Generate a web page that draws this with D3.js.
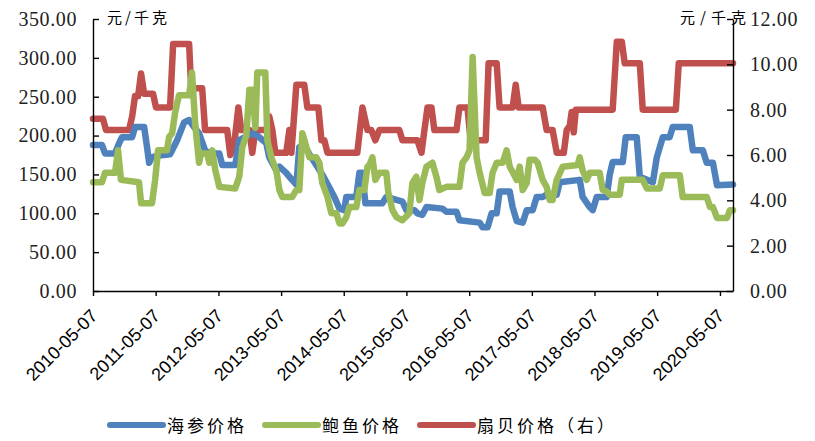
<!DOCTYPE html>
<html>
<head>
<meta charset="utf-8">
<script src="https://cdn.jsdelivr.net/npm/d3@7"></script>
<style>
  body { margin: 0; background: #fff; }
</style>
</head>
<body>
<script>
// tick values
var xTicks = ["2010-05-07", "2011-05-07", "2012-05-07", "2013-05-07", "2014-05-07", "2015-05-07",
  "2016-05-07", "2017-05-07", "2018-05-07", "2019-05-07", "2020-05-07"];
var leftTicks = [0, 50, 100, 150, 200, 250, 300, 350];
var rightTicks = [0, 2, 4, 6, 8, 10, 12];

var seriesNames = ["海参价格", "鲍鱼价格", "扇贝价格（右）"];

// 海参价格 (left axis)
var cucumberDates = ["2010-05-07","2010-06-28","2010-07-16","2010-09-12","2010-10-06","2010-10-23","2010-12-21",
  "2011-01-07","2011-03-01","2011-03-18","2011-03-30","2011-04-16","2011-05-15","2011-07-30","2011-08-11",
  "2011-09-09","2011-10-20","2011-11-18","2011-12-17","2012-01-15","2012-02-19","2012-03-15","2012-05-12",
  "2012-05-29","2012-08-13","2012-09-05","2012-11-20","2012-12-19","2013-02-10","2013-02-27","2013-04-09",
  "2013-04-27","2013-06-06","2013-06-24","2013-08-04","2013-08-21","2013-09-25","2013-10-30","2013-12-04",
  "2014-01-02","2014-02-12","2014-03-13","2014-04-12","2014-05-10","2014-05-22","2014-07-19","2014-08-06",
  "2014-08-23","2014-09-10","2014-12-18","2015-01-10","2015-04-14","2015-05-07","2015-06-23","2015-07-10",
  "2015-08-08","2015-09-01","2015-12-03","2015-12-26","2016-02-23","2016-03-11","2016-07-07","2016-07-24",
  "2016-08-22","2016-09-15","2016-10-14","2016-10-31","2016-12-29","2017-01-15","2017-02-08","2017-03-15",
  "2017-04-07","2017-05-12","2017-06-04","2017-07-09","2017-08-01","2017-09-29","2017-10-16","2018-02-10",
  "2018-02-27","2018-04-09","2018-04-27","2018-05-20","2018-07-17","2018-08-04","2018-08-21","2018-10-19",
  "2018-11-05","2019-01-08","2019-01-26","2019-04-12","2019-05-05","2019-06-09","2019-07-19","2019-08-06",
  "2019-11-13","2019-12-01","2020-01-28","2020-02-20","2020-03-27","2020-04-20","2020-07-22"];
var cucumberPrices = [188,188,177,177,190,198,198,
  211,211,185,165,172,174,176,181,
  194,217,220,211,203,181,177,177,
  162,162,194,203,200,190,172,155,
  160,152,147,137,185,185,172,160,
  150,133,121,106,104,121,121,152,
  152,113,113,121,115,104,104,100,
  98,108,106,102,102,91,88,82,
  82,100,100,128,128,108,90,88,
  104,104,121,121,124,124,140,143,
  121,108,104,121,121,150,166,166,
  198,198,147,140,172,198,198,211,
  211,181,181,165,165,136,137];

// 鲍鱼价格 (left axis)
var abaloneDates = ["2010-05-07","2010-06-28","2010-07-16","2010-09-12","2010-09-30","2010-10-17","2011-01-30",
  "2011-02-11","2011-04-16","2011-05-04","2011-05-21","2011-07-12","2011-07-24","2011-08-11","2011-08-28",
  "2011-09-20","2011-11-18","2011-12-05","2011-12-23","2012-01-15","2012-01-27","2012-03-03","2012-03-15",
  "2012-04-01","2012-04-19","2012-05-12","2012-08-13","2012-09-05","2012-09-23","2012-10-16","2012-11-03",
  "2012-11-20","2012-12-08","2012-12-19","2013-02-04","2013-02-16","2013-03-11","2013-04-09","2013-04-27",
  "2013-05-14","2013-07-11","2013-08-04","2013-08-21","2013-09-08","2013-09-25","2013-10-19","2013-11-28",
  "2013-12-16","2014-01-02","2014-02-01","2014-02-24","2014-03-25","2014-04-12","2014-04-29","2014-05-22",
  "2014-06-09","2014-07-19","2014-08-06","2014-09-04","2014-09-22","2014-10-03","2014-10-21","2014-11-07",
  "2014-12-01","2015-01-10","2015-01-22","2015-02-15","2015-03-10","2015-04-14","2015-05-24","2015-06-11",
  "2015-07-04","2015-07-22","2015-08-08","2015-09-01","2015-10-06","2015-10-29","2015-11-15","2015-12-26",
  "2016-03-11","2016-03-29","2016-04-22","2016-05-09","2016-05-27","2016-06-19","2016-07-07","2016-08-05",
  "2016-09-03","2016-09-20","2016-10-14","2016-11-18","2016-12-11","2016-12-29","2017-02-08","2017-02-25",
  "2017-03-15","2017-04-07","2017-04-24","2017-05-23","2017-06-10","2017-07-09","2017-08-01","2017-08-19",
  "2017-09-05","2017-09-29","2017-11-03","2018-01-29","2018-02-10","2018-02-27","2018-03-23","2018-04-09",
  "2018-06-06","2018-06-24","2018-07-17","2018-08-04","2018-10-01","2018-10-13","2019-02-12","2019-03-08",
  "2019-05-22","2019-06-09","2019-09-16","2019-10-03","2020-02-20","2020-03-10","2020-03-27","2020-04-20",
  "2020-06-17","2020-07-04","2020-07-22"];
var abalonePrices = [140,140,152,152,181,143,140,
  113,113,143,181,181,198,203,229,
  252,252,281,216,165,177,177,165,
  181,155,134,132,147,185,200,259,
  259,210,281,281,194,172,155,130,
  121,121,130,130,203,190,172,172,
  165,139,121,100,100,87,87,95,
  108,108,130,130,160,162,172,143,
  152,152,126,104,95,91,100,139,
  147,117,139,160,165,147,130,134,
  134,165,172,181,301,172,152,126,
  126,152,165,165,181,160,143,160,
  130,139,169,169,165,143,134,117,
  117,143,160,162,172,155,143,152,
  152,130,128,124,124,143,143,132,
  132,149,149,121,121,108,108,94,
  94,104,104];

// 扇贝价格 (right axis)
var scallopDates = ["2010-05-07","2010-07-04","2010-07-22","2010-12-03","2010-12-21","2011-01-07","2011-01-25",
  "2011-02-11","2011-03-01","2011-04-22","2011-05-09","2011-07-30","2011-08-17","2011-11-18","2011-11-30",
  "2012-02-02","2012-02-19","2012-06-27","2012-07-15","2012-08-07","2012-08-31","2012-09-17","2012-11-03",
  "2012-11-20","2012-12-08","2013-02-10","2013-02-27","2013-03-17","2013-04-03","2013-06-06","2013-06-24",
  "2013-07-06","2013-08-04","2013-09-19","2013-10-07","2013-12-10","2013-12-28","2014-01-14","2014-02-01",
  "2014-07-25","2014-08-24","2014-09-22","2014-10-15","2014-11-07","2014-12-01","2015-03-27","2015-04-14",
  "2015-07-10","2015-08-03","2015-08-20","2015-09-07","2015-09-30","2015-10-17","2016-02-23","2016-03-11",
  "2016-04-27","2016-05-15","2016-08-11","2016-08-28","2016-10-14","2016-10-31","2017-01-15","2017-02-02",
  "2017-02-19","2017-07-09","2017-08-01","2017-09-05","2017-09-29","2017-11-09","2017-11-26","2017-12-14",
  "2017-12-25","2018-01-06","2018-01-18","2018-08-21","2018-09-14","2018-10-13","2018-10-30","2019-01-26",
  "2019-02-12","2019-08-24","2019-09-10","2020-07-22"];
var scallopPrices = [7.6,7.6,7.1,7.1,7.7,8.6,8.6,
  9.6,8.7,8.7,8.1,8.1,10.9,10.9,8.95,
  8.95,7.1,7.1,6.0,6.5,8.1,7.1,7.1,
  6.1,7.1,7.1,7.7,7.1,6.1,6.1,7.1,
  6.1,9.1,9.1,8.1,8.1,6.65,6.65,6.1,
  6.1,8.1,7.1,7.1,6.65,7.1,7.1,6.65,
  6.65,6.1,7.1,8.1,8.1,7.1,7.1,8.1,
  8.1,6.65,6.65,10.05,10.05,8.1,8.1,9.1,
  8.1,8.1,7.1,7.1,6.1,6.1,7.1,7.3,
  7.9,7.0,8.0,8.0,11.0,11.0,10.05,10.05,
  8.0,8.0,10.05,10.05];

var svgWidth = 815;
var svgHeight = 441;
var margin = { top: 19, right: 82, bottom: 150, left: 93 };
var width = svgWidth - margin.left - margin.right;
var height = svgHeight - margin.top - margin.bottom;

var parseDate = d3.timeParse("%Y-%m-%d");
var formatDate = d3.timeFormat("%Y-%m-%d");

var svg = d3.select("body").append("svg")
  .attr("width", svgWidth)
  .attr("height", svgHeight);

var chart = svg.append("g")
  .attr("transform", `translate(${margin.left},${margin.top})`);

var x = d3.scaleTime()
  .domain([parseDate("2010-05-07"), parseDate("2020-07-22")])
  .range([0, width]);
var yLeft = d3.scaleLinear().domain([0, 350]).range([height, 0]);
var yRight = d3.scaleLinear().domain([0, 12]).range([height, 0]);

// lines
function makeSeries(dates, values) {
  return dates.map((d, i) => ({ date: parseDate(d), value: values[i] }));
}
var series = [
  { data: makeSeries(scallopDates, scallopPrices), y: yRight, color: "#C0504D" },
  { data: makeSeries(cucumberDates, cucumberPrices), y: yLeft, color: "#4F81BD" },
  { data: makeSeries(abaloneDates, abalonePrices), y: yLeft, color: "#9BBB59" }
];

series.forEach(function(s) {
  var line = d3.line()
    .x(d => x(d.date))
    .y(d => s.y(d.value));
  chart.append("path")
    .datum(s.data)
    .attr("fill", "none")
    .attr("stroke", s.color)
    .attr("stroke-width", 6.5)
    .attr("stroke-linejoin", "round")
    .attr("stroke-linecap", "round")
    .attr("d", line);
});

// axes
var leftAxis = d3.axisLeft(yLeft)
  .tickValues(leftTicks)
  .tickFormat(d3.format(".2f"))
  .tickSizeInner(-6).tickSizeOuter(0).tickPadding(16);
var rightAxis = d3.axisRight(yRight)
  .tickValues(rightTicks)
  .tickFormat(d3.format(".2f"))
  .tickSizeInner(-6).tickSizeOuter(0).tickPadding(17);
var bottomAxis = d3.axisBottom(x)
  .tickValues(xTicks.map(parseDate))
  .tickFormat(formatDate)
  .tickSizeInner(5).tickSizeOuter(0);

var gLeft = chart.append("g").call(leftAxis);
var gRight = chart.append("g").attr("transform", `translate(${width},0)`).call(rightAxis);
var gBottom = chart.append("g").attr("transform", `translate(0,${height})`).call(bottomAxis);

[gLeft, gRight].forEach(function(g) {
  g.selectAll("text")
    .style("font-family", "'Liberation Serif', serif")
    .style("font-size", "20px")
    .style("letter-spacing", "0.6px")
    .attr("fill", "#222");
});
gBottom.selectAll("text")
  .style("font-family", "'Liberation Sans', Arial, sans-serif")
  .style("font-size", "18px")
  .attr("fill", "#000")
  .attr("text-anchor", "end")
  .attr("y", 0)
  .attr("dy", 0)
  .attr("transform", "translate(5,26) rotate(-45)");

chart.selectAll(".domain, .tick line")
  .attr("stroke", "#000")
  .attr("stroke-width", 1.4);

// unit labels
svg.append("text")
  .attr("x", 107).attr("y", 23)
  .style("font-family", "'Noto Sans CJK SC', sans-serif")
  .style("font-size", "15px")
  .style("letter-spacing", "3px")
  .text("元/千克");
svg.append("text")
  .attr("x", 680).attr("y", 23)
  .style("font-family", "'Noto Sans CJK SC', sans-serif")
  .style("font-size", "15px")
  .style("letter-spacing", "5px")
  .text("元/千克");

// legend
var legendColors = ["#4F81BD", "#9BBB59", "#C0504D"];
var legendX = [110, 265, 420];
var legend = svg.append("g").attr("transform", "translate(0,425)");
seriesNames.forEach(function(name, i) {
  legend.append("line")
    .attr("x1", legendX[i]).attr("x2", legendX[i] + 53)
    .attr("y1", 0).attr("y2", 0)
    .attr("stroke", legendColors[i])
    .attr("stroke-width", 6)
    .attr("stroke-linecap", "round");
  legend.append("text")
    .attr("x", legendX[i] + 57).attr("y", 7)
    .style("font-family", "'Noto Sans CJK SC', sans-serif")
    .style("font-size", "17px")
    .style("letter-spacing", "3px")
    .text(name);
});
</script>
</body>
</html>
